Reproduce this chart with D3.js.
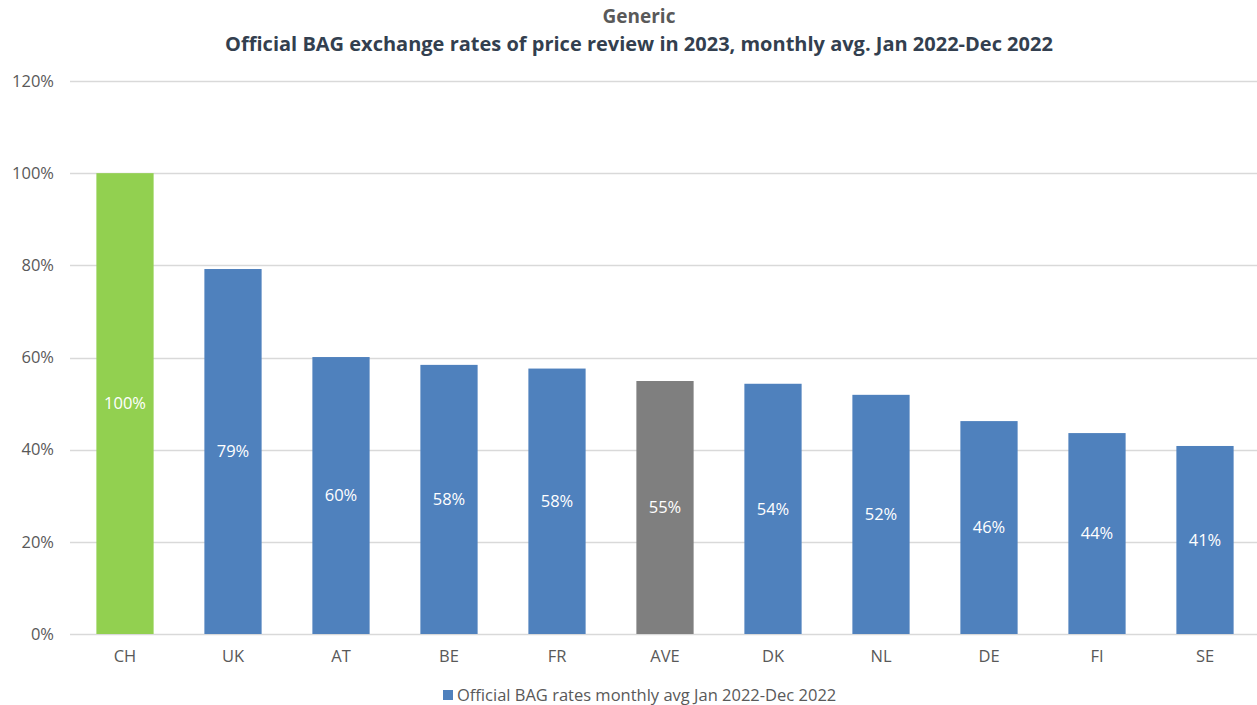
<!DOCTYPE html>
<html>
<head>
<meta charset="utf-8">
<script src="https://cdn.jsdelivr.net/npm/d3@7"></script>
<style>
  body { margin: 0; background: #fff; }
  svg text { font-family: "Open Sans", "Noto Sans", sans-serif; }
</style>
</head>
<body>
<div id="chart"></div>
<script>
// chart data
var countries = ["CH", "UK", "AT", "BE", "FR", "AVE", "DK", "NL", "DE", "FI", "SE"];
var rates = [1.00, 0.792, 0.601, 0.584, 0.576, 0.549, 0.543, 0.519, 0.462, 0.436, 0.408];
var yTicks = [0, 0.2, 0.4, 0.6, 0.8, 1.0, 1.2];
var titleTop = "Generic";
var titleMain = "Official BAG exchange rates of price review in 2023, monthly avg. Jan 2022-Dec 2022";
var legendLabel = "Official BAG rates monthly avg Jan 2022-Dec 2022";

var width = 1257, height = 705;
var margin = { top: 81, right: 0, bottom: 71, left: 71 };

var svg = d3.select("#chart").append("svg")
    .attr("width", width)
    .attr("height", height)
;

var x = d3.scaleBand()
    .domain(countries)
    .range([margin.left, 1259])
    .paddingInner(0.47)
    .paddingOuter(0.235)
;
var y = d3.scaleLinear()
    .domain([0, 1.2])
    .range([height - margin.bottom, margin.top])
;

function barColor(c) {
    if (c === "CH") return "#92d050";
    if (c === "AVE") return "#7f7f7f";
    return "#4f81bd";
}

// gridlines
svg.append("g")
  .selectAll("line")
    .data(yTicks)
  .enter().append("line")
    .attr("x1", 70)
    .attr("x2", width)
    .attr("y1", function(d) { return Math.round(y(d)) + 0.5; })
    .attr("y2", function(d) { return Math.round(y(d)) + 0.5; })
    .attr("stroke", "#d9d9d9")
    .attr("stroke-width", 1.5)
;

// y axis labels
var yAxis = d3.axisLeft(y)
    .tickValues(yTicks)
    .tickFormat(d3.format(".0%"))
    .tickSize(0)
    .tickPadding(0)
;
svg.append("g")
    .attr("transform", "translate(54,0)")
    .call(yAxis)
    .call(function(g) { g.select(".domain").remove(); })
    .selectAll("text")
      .attr("fill", "#595959")
      .style("font-size", "16.5px")
;

// bars
svg.append("g")
  .selectAll("rect")
    .data(countries)
  .enter().append("rect")
    .attr("x", function(c) { return x(c); })
    .attr("width", x.bandwidth())
    .attr("y", function(c, i) { return y(rates[i]); })
    .attr("height", function(c, i) { return y(0) - y(rates[i]); })
    .attr("fill", barColor)
;

// value labels
svg.append("g")
  .selectAll("text")
    .data(countries)
  .enter().append("text")
    .attr("x", function(c) { return x(c) + x.bandwidth() / 2; })
    .attr("y", function(c, i) { return (y(rates[i]) + y(0)) / 2; })
    .attr("dy", "0.35em")
    .attr("text-anchor", "middle")
    .attr("fill", "#ffffff")
    .style("font-size", "16.5px")
    .text(function(c, i) { return d3.format(".0%")(rates[i]); })
;

// x axis labels
var xAxis = d3.axisBottom(x).tickSize(0).tickPadding(0);
svg.append("g")
    .attr("transform", "translate(0," + (y(0) + 16) + ")")
    .call(xAxis)
    .call(function(g) { g.select(".domain").remove(); })
    .selectAll("text")
      .attr("fill", "#595959")
      .style("font-size", "16.5px")
;

// titles
svg.append("text")
    .attr("x", 639)
    .attr("y", 23)
    .attr("text-anchor", "middle")
    .attr("fill", "#595959")
    .style("font-size", "19px")
    .style("font-weight", "bold")
    .text(titleTop)
;
svg.append("text")
    .attr("x", 639)
    .attr("y", 51)
    .attr("text-anchor", "middle")
    .attr("fill", "#333f4f")
    .style("font-size", "20px")
    .style("font-weight", "bold")
    .text(titleMain)
;

// legend
var legend = svg.append("g").attr("transform", "translate(443,690)");
legend.append("rect")
    .attr("x", 0)
    .attr("y", 0)
    .attr("width", 10)
    .attr("height", 10)
    .attr("fill", "#4f81bd")
;
legend.append("text")
    .attr("x", 14)
    .attr("y", 11)
    .attr("fill", "#595959")
    .style("font-size", "16.5px")
    .text(legendLabel)
;
</script>
</body>
</html>
